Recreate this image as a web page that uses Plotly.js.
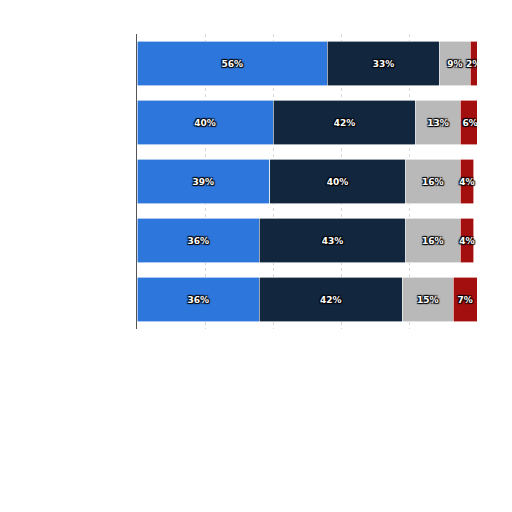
<!DOCTYPE html>
<html>
<head>
<meta charset="utf-8">
<script src="https://cdn.plot.ly/plotly-3.0.1.min.js"></script>
<style>
  html, body { margin: 0; padding: 0; background: #fff; }
  #myDiv { width: 512px; height: 512px; }
</style>
</head>
<body>
<div id="myDiv"></div>
<script>
// rows top to bottom
var rows = ["Row 1", "Row 2", "Row 3", "Row 4", "Row 5"];
var seriesA = [56, 40, 39, 36, 36];
var seriesB = [33, 42, 40, 43, 42];
var seriesC = [9, 13, 16, 16, 15];
var seriesD = [2, 6, 4, 4, 7];

var colors = ["#2d76dc", "#12263e", "#b9b9b9", "#a30e0e"];
var series = [seriesA, seriesB, seriesC, seriesD];

var data = series.map(function (vals, i) {
  return {
    type: "bar",
    orientation: "h",
    y: rows,
    x: vals,
    text: vals.map(function (v) { return v + "%"; }),
    textposition: "inside",
    insidetextanchor: "middle",
    textangle: 0,
    constraintext: "none",
    textfont: {
      family: "DejaVu Sans",
      size: 9,
      weight: "bold",
      color: "#ffffff",
      shadow: "1px 1px 1px #000, -1px -1px 1px #000, 1px -1px 1px #000, -1px 1px 1px #000"
    },
    marker: { color: colors[i], line: { color: "#ffffff", width: 0.6 } },
    hoverinfo: "x",
    showlegend: false
  };
});

var layout = {
  width: 512, height: 512,
  margin: { t: 34, r: 35, l: 137, b: 183 },
  barmode: "stack",
  bargap: 0.24,
  paper_bgcolor: "#ffffff",
  plot_bgcolor: "#ffffff",
  xaxis: {
    range: [0, 100],
    dtick: 20,
    showgrid: true,
    gridcolor: "#d8d8d8",
    griddash: "dot",
    gridwidth: 1,
    showticklabels: false,
    zeroline: false,
    showline: false,
    ticks: ""
  },
  yaxis: {
    autorange: "reversed",
    showticklabels: false,
    showgrid: false,
    zeroline: false,
    showline: true,
    linecolor: "#555555",
    linewidth: 1.5,
    ticks: ""
  }
};

Plotly.newPlot("myDiv", data, layout, { displayModeBar: false, staticPlot: true });
</script>
</body>
</html>
